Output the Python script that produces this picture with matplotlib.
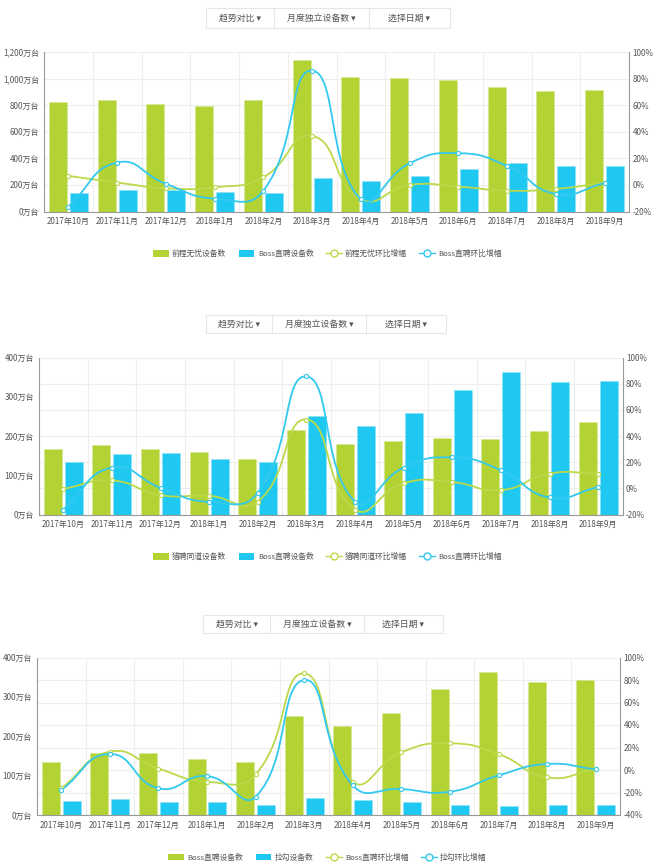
import numpy as np
import matplotlib.pyplot as plt
from matplotlib.path import Path
from matplotlib.patches import PathPatch, Rectangle, Patch
from matplotlib.lines import Line2D
from matplotlib.ticker import FuncFormatter

plt.rcParams['font.family'] = ['Noto Sans CJK SC', 'DejaVu Sans']

months = ["2017年10月", "2017年11月", "2017年12月", "2018年1月", "2018年2月", "2018年3月",
          "2018年4月", "2018年5月", "2018年6月", "2018年7月", "2018年8月", "2018年9月"]

# chart 1: 前程无忧 vs Boss直聘 (万台, %)
qc_devices = [824, 837, 811, 796, 842, 1143, 1010, 1003, 987, 940, 910, 913]
boss_devices_1 = [138, 158, 158, 143, 138, 251, 226, 264, 319, 364, 339, 344]
qc_rate = [6.8, 1.8, -2.5, -1.8, 5.8, 37, -10.8, 0, -1.3, -4.3, -3, 1.8]
boss_rate_1 = [-16.3, 16.8, 0.8, -10.3, -4.3, 86, -10.8, 16.3, 23.9, 14.3, -6.8, 1.3]

# chart 2: 猎聘同道 vs Boss直聘
lp_devices = [166, 176, 166, 158, 142, 215, 180, 186, 194, 192, 213, 236]
boss_devices_2 = [135, 155, 157, 141, 135, 250, 226, 259, 318, 363, 338, 341]
lp_rate = [-0.4, 6.0, -5.2, -5.7, -10.1, 52.6, -16.2, 3.9, 4.7, -1.4, 11.3, 11.3]
boss_rate_2 = [-16.2, 15.9, 0.4, -10.3, -3.4, 85.5, -10.1, 15.9, 23.6, 13.9, -7.0, 0.9]

# chart 3: Boss直聘 vs 拉勾
boss_devices_3 = [135, 157, 158, 142, 135, 251, 226, 260, 320, 364, 339, 342]
lg_devices = [35.5, 40.6, 33.8, 32.1, 24.5, 43.1, 38, 32, 25, 23.7, 25, 25]
boss_rate_3 = [-16.3, 16.3, 1.2, -10.4, -3.9, 85.8, -10.4, 15.7, 23.7, 14.2, -6.5, 0.9]
lg_rate = [-17.8, 14.2, -16.3, -5.4, -23.7, 79.9, -13.6, -16.9, -19.3, -4.8, 5.3, 0.6]

GREEN = "#b3d234"
BLUE = "#1fc8f1"
W, H = 655, 868

fig = plt.figure(figsize=(W / 100, H / 100), dpi=100)


def smooth_line(ax, xs, ys, color, smooth=0.5):
    # echarts-like bezier smoothing, control points from neighbours
    pts = ax.transData.transform(np.column_stack([xs, ys]))
    n = len(pts)
    c0, c1 = [], []
    for i in range(n):
        p = pts[i]
        prev = pts[i - 1] if i > 0 else p
        nxt = pts[i + 1] if i < n - 1 else p
        v = (nxt - prev) * smooth
        d0 = np.hypot(*(p - prev))
        d1 = np.hypot(*(p - nxt))
        s = d0 + d1
        if s > 0:
            d0, d1 = d0 / s, d1 / s
        c0.append(p - v * d0)
        c1.append(p + v * d1)
    verts = [pts[0]]
    codes = [Path.MOVETO]
    for i in range(n - 1):
        verts += [c1[i], c0[i + 1], pts[i + 1]]
        codes += [Path.CURVE4] * 3
    verts = ax.transData.inverted().transform(np.array(verts))
    ax.add_patch(PathPatch(Path(verts, codes), fill=False, edgecolor=color, lw=1.3, zorder=3))
    ax.plot(xs, ys, linestyle="none", marker="o", ms=3, mfc="white", mec=color, mew=0.8, zorder=4)


def dropdown(x0, x1, y0, y1, d1, d2):
    fig.add_artist(Rectangle((x0 / W, 1 - y1 / H), (x1 - x0) / W, (y1 - y0) / H,
                             transform=fig.transFigure, facecolor="white", edgecolor="#e6e6e6", lw=0.8))
    for d in (d1, d2):
        fig.add_artist(Line2D([d / W, d / W], [1 - y1 / H, 1 - y0 / H], color="#e6e6e6", lw=0.8))
    yc = 1 - (y0 + y1) / 2 / H
    for (a, b), t in zip([(x0, d1), (d1, d2), (d2, x1)], ["趋势对比 ▾", "月度独立设备数 ▾", "选择日期 ▾"]):
        fig.text((a + b) / 2 / W, yc, t, ha="center", va="center", fontsize=6.4, color="#555555")


def panel(rect, box, legend_y, names, bars_a, bars_b, rate_a, rate_b, ymax, ystep, rlo, rhi):
    l, r, t, b = rect
    ax = fig.add_axes([l / W, 1 - b / H, (r - l) / W, (b - t) / H])
    ax2 = ax.twinx()
    x = np.arange(len(months))

    ax.set_xlim(-0.5, len(months) - 0.5)
    ax.set_ylim(0, ymax)
    ax2.set_ylim(rlo, rhi)

    # grid: category boundaries + right axis ticks
    for i in range(1, len(months)):
        ax.axvline(i - 0.5, color="#eeeeee", lw=0.8, zorder=0)
    for v in np.arange(rlo + 20, rhi + 1, 20):
        f = (v - rlo) / (rhi - rlo)
        ax.plot([0, 1], [f, f], transform=ax.transAxes, color="#eeeeee", lw=0.8, zorder=0)

    ax.bar(x - 0.215, bars_a, width=0.37, color=GREEN, edgecolor="#d6e98f", lw=0.4, zorder=2)
    ax.bar(x + 0.215, bars_b, width=0.37, color=BLUE, edgecolor="#8fe2f6", lw=0.4, zorder=2)

    smooth_line(ax2, x, rate_a, "#bcd94a")
    smooth_line(ax2, x, rate_b, "#33c9ee")

    ax.set_xticks(x)
    ax.set_xticklabels(months)
    ax.set_yticks(np.arange(0, ymax + 1, ystep))
    ax.yaxis.set_major_formatter(FuncFormatter(lambda v, p: f"{v:,.0f}万台"))
    ax2.set_yticks(np.arange(rlo, rhi + 1, 20))
    ax2.yaxis.set_major_formatter(FuncFormatter(lambda v, p: f"{v:.0f}%"))
    for a in (ax, ax2):
        a.tick_params(length=0, labelsize=5.8, colors="#555555")
        a.spines["top"].set_visible(False)
    ax.tick_params(axis="x", pad=4)
    ax.tick_params(axis="y", pad=3.5)
    ax2.tick_params(axis="y", pad=2.5)
    ax.spines["right"].set_visible(False)
    ax2.spines["left"].set_visible(False)
    ax2.spines["bottom"].set_visible(False)
    for s in ("left", "bottom"):
        ax.spines[s].set_color("#999999")
    ax2.spines["right"].set_color("#999999")

    dropdown(*box)

    handles = [Patch(facecolor=GREEN), Patch(facecolor=BLUE),
               Line2D([], [], color="#bcd94a", lw=1, marker="o", ms=5, mfc="white", mew=1),
               Line2D([], [], color="#33c9ee", lw=1, marker="o", ms=5, mfc="white", mew=1)]
    fig.legend(handles, names, loc="center", bbox_to_anchor=(0.5, 1 - legend_y / H), ncol=4,
               frameon=False, fontsize=5.6, handlelength=2.0, handleheight=0.9,
               columnspacing=1.6, handletextpad=0.45, labelcolor="#555555")


panel((44, 629, 52, 211.5), (206, 450, 8, 28, 274, 369), 254,
      ["前程无忧设备数", "Boss直聘设备数", "前程无忧环比增幅", "Boss直聘环比增幅"],
      qc_devices, boss_devices_1, qc_rate, boss_rate_1, 1200, 200, -20, 100)
panel((39, 622.5, 357.5, 514.5), (206, 446, 315, 333, 272, 366), 557,
      ["猎聘同道设备数", "Boss直聘设备数", "猎聘同道环比增幅", "Boss直聘环比增幅"],
      lp_devices, boss_devices_2, lp_rate, boss_rate_2, 400, 100, -20, 100)
panel((37, 620, 657.5, 815), (203, 443, 615, 633, 270, 364), 857.5,
      ["Boss直聘设备数", "拉勾设备数", "Boss直聘环比增幅", "拉勾环比增幅"],
      boss_devices_3, lg_devices, boss_rate_3, lg_rate, 400, 100, -40, 100)

fig.savefig("out.png", dpi=100)
